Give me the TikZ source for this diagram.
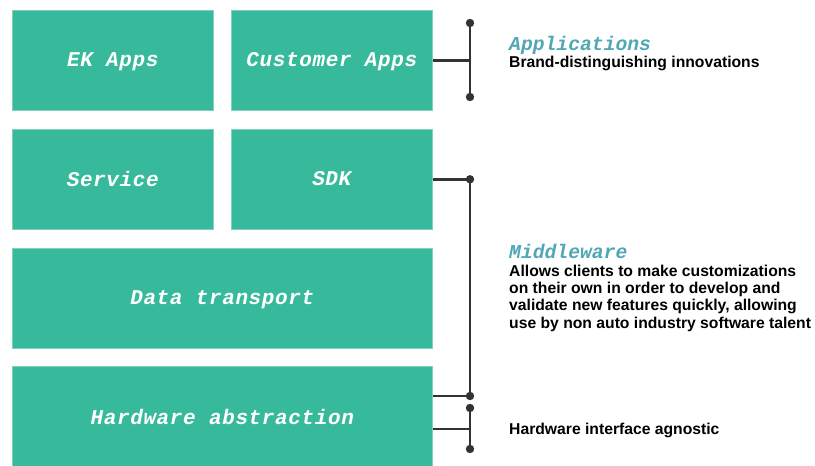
\documentclass[tikz,border=0pt]{standalone}
\usepackage{fontspec}
\setmainfont{Liberation Sans}
\newfontfamily\labelmono[LetterSpace=3]{Liberation Mono}
\newfontfamily\headmono{Liberation Mono}
\definecolor{layer}{HTML}{37BA9B}
\definecolor{layeredge}{HTML}{7ED3BE}
\definecolor{headcol}{HTML}{50A7B5}
\definecolor{wire}{HTML}{333333}
\tikzset{
  layerbox/.style={fill=layer, draw=layeredge, line width=0.6pt, anchor=north west,
    inner sep=0pt, text=white, text depth=1pt,
    font=\labelmono\bfseries\itshape\fontsize{21}{24}\selectfont},
  heading/.style={anchor=base west, inner sep=0pt, text=headcol,
    font=\headmono\bfseries\itshape\fontsize{19.7}{22}\selectfont},
  note/.style={anchor=base west, inner sep=0pt, align=left, text=black,
    font=\bfseries\fontsize{15.7}{17.3}\selectfont},
  wireline/.style={draw=wire, line width=2.4pt},
  dot/.style={fill=wire}
}
\begin{document}
\begin{tikzpicture}[x=1pt, y=-1pt]
  \useasboundingbox (0,0) rectangle (815,466);
  % software layers
  \node[layerbox, minimum width=201pt, minimum height=100pt] (ek) at (12,10) {EK Apps};
  \node[layerbox, minimum width=201pt, minimum height=100pt] (capps) at (231,10) {Customer Apps};
  \node[layerbox, minimum width=201pt, minimum height=100pt] (svc) at (12,129) {Service};
  \node[layerbox, minimum width=201pt, minimum height=100pt] (sdk) at (231,129) {SDK};
  \node[layerbox, minimum width=420pt, minimum height=100pt] (dt) at (12,248) {Data transport};
  \begin{scope}
    \clip (0,0) rectangle (815,466);
    \node[layerbox, minimum width=420pt, minimum height=102pt] (hw) at (12,366) {Hardware abstraction};
  \end{scope}
  % bracket end points
  \coordinate (a1) at (470,23);
  \coordinate (a2) at (470,97);
  \coordinate (m1) at (sdk.east -| a1);
  \coordinate (m2) at (470,396);
  \coordinate (h1) at (470,408);
  \coordinate (h2) at (470,449);
  % applications bracket
  \draw[wireline] (a1) -- (a2);
  \draw[wireline] (capps.east) -- (capps.east -| a1);
  \fill[dot] (a1) circle (4.2) (a2) circle (4.2);
  % middleware bracket
  \draw[wireline] (sdk.east) -- (m1) -- (m2) -- (m2 -| hw.east);
  \fill[dot] (m1) circle (4.2) (m2) circle (4.2);
  % hardware bracket
  \draw[wireline] (h1) -- (h2);
  \draw[wireline] (h1 |- 0,429) -- (hw.east |- 0,429);
  \fill[dot] (h1) circle (4.2) (h2) circle (4.2);
  % descriptions
  \node[heading] (apph) at (509,50.5) {Applications};
  \node[note] (appt) at (509,67.5) {Brand-distinguishing innovations};
  \node[heading] (mwh) at (509,258) {Middleware};
  \node[note, anchor=north west] (mwt) at (509,264.6) {Allows clients to make customizations\\on their own in order to develop and\\validate new features quickly, allowing\\use by non auto industry software talent};
  \node[note] (hwt) at (509,434) {Hardware interface agnostic};
\end{tikzpicture}
\end{document}
